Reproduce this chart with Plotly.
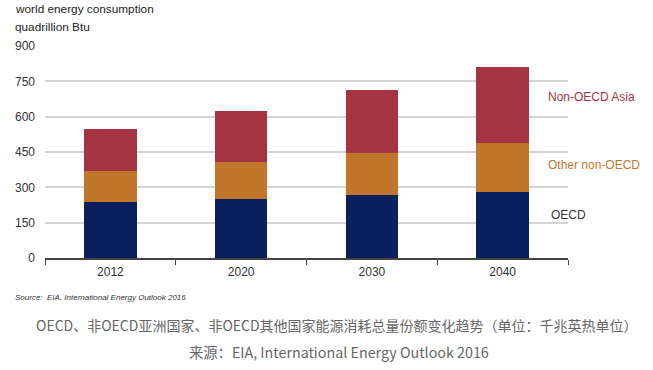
import plotly.graph_objects as go

years = ["2012", "2020", "2030", "2040"]
oecd = [236, 252, 266, 280]
other_non_oecd = [134, 154, 181, 209]
non_oecd_asia = [176, 219, 266, 323]
y_ticks = [0, 150, 300, 450, 600, 750, 900]

c_oecd = "#0b1f5e"
c_other = "#c0772c"
c_asia = "#a53442"

fig = go.Figure()
for name, vals, col in [("OECD", oecd, c_oecd), ("Other non-OECD", other_non_oecd, c_other),
                        ("Non-OECD Asia", non_oecd_asia, c_asia)]:
    fig.add_trace(go.Bar(x=years, y=vals, name=name, marker=dict(color=col, line=dict(width=0)),
                         width=0.4, hoverinfo="x+y+name"))

X0, X1 = 45, 568
Y0, Y1 = 46, 258

fig.update_layout(
    barmode="stack",
    width=653, height=370,
    margin=dict(l=X0, r=653 - X1, t=Y0, b=370 - Y1, pad=0),
    paper_bgcolor="white", plot_bgcolor="white",
    showlegend=False,
    font=dict(family="Liberation Sans, Arial, sans-serif", size=12, color="#333"),
)
fig.update_yaxes(range=[0, 900], tickvals=y_ticks, showgrid=True, gridcolor="#d4d4d4", gridwidth=1.5,
                 zeroline=False, showline=False, ticks="", tickfont=dict(size=12, color="#333"),
                 ticklabelstandoff=9, fixedrange=True)
fig.update_xaxes(showline=True, linecolor="#444", linewidth=1.5, ticks="outside", tickson="boundaries",
                 ticklen=5, tickcolor="#444", tickfont=dict(size=12, color="#333"),
                 ticklabelstandoff=2, fixedrange=True)


def add_px_text(px, py, text, size, color, family=None, anchor="left", italic=False):
    xp = (px - X0) / (X1 - X0)
    yp = (Y1 - py) / (Y1 - Y0)
    fig.add_annotation(x=xp, y=yp, xref="paper", yref="paper", xanchor=anchor, yanchor="middle",
                       text=("<i>%s</i>" % text) if italic else text, showarrow=False,
                       font=dict(size=size, color=color, family=family or "Liberation Sans, Arial, sans-serif"))


labels = [("Non-OECD Asia", 546, 97, c_asia), ("Other non-OECD", 546, 165, c_other), ("OECD", 549, 215, "#333")]
for text, px, py, col in labels:
    add_px_text(px, py, text, 12, col)

add_px_text(13, 9, "world energy consumption", 11.8, "#222")
add_px_text(13, 27, "quadrillion Btu", 11.8, "#222")
add_px_text(13, 297, "Source:  EIA, International Energy Outlook 2016", 8, "#333", italic=True)
add_px_text(337, 325, "OECD、非OECD亚洲国家、非OECD其他国家能源消耗总量份额变化趋势（单位：千兆英热单位）", 14, "#666",
            family="Noto Sans CJK SC", anchor="center")
add_px_text(339, 351, "来源：EIA, International Energy Outlook 2016", 14.3, "#666",
            family="Noto Sans CJK SC", anchor="center")

fig.write_html("out.html", config={"displayModeBar": False},
               post_script="document.body.style.margin='0';")
